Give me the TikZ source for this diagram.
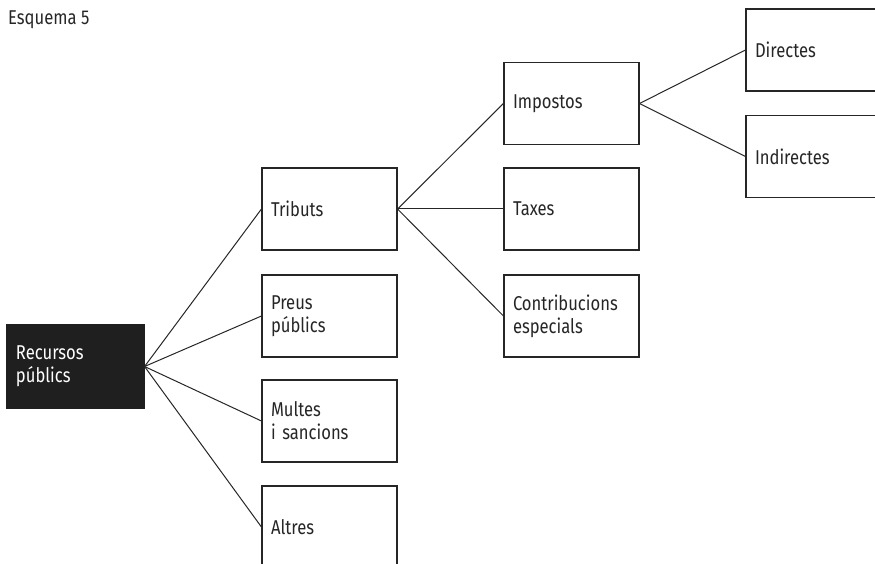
\documentclass[tikz,border=0pt]{standalone}
\usepackage{fontspec}
\setmainfont{Fira Sans}[FakeStretch=0.83]
\begin{document}
\begin{tikzpicture}[x=1pt,y=-1pt,
  every node/.style={font=\fontsize{20}{23}\selectfont},
  box/.style={draw=black!85,line width=1.1pt,fill=white,minimum width=135pt,minimum height=82pt,
    text width=117pt,inner xsep=9pt,inner ysep=0pt,align=left,text=black!85},
  rootbox/.style={box,fill=black!88,draw=black!88,text=white,minimum width=137pt,minimum height=83pt,
    text width=119pt},
  link/.style={draw=black!85,line width=1pt}]
  \useasboundingbox (0,0) rectangle (875,564);
  \clip (0,0) rectangle (875,564);
  \node[anchor=base west,inner sep=0pt,text=black!85] (title) at (8,25) {Esquema 5};
  % root
  \node[rootbox] (rec) at (75.5,366.5) {Recursos\\públics};
  % second level
  \node[box] (tri) at (329.5,209) {Tributs};
  \node[box] (pre) at (329.5,316) {Preus\\públics};
  \node[box] (mul) at (329.5,421) {Multes\\i sancions};
  \node[box] (alt) at (329.5,527) {Altres};
  % third level
  \node[box] (imp) at (571.5,103.5) {Impostos};
  \node[box] (tax) at (571.5,209) {Taxes};
  \node[box] (con) at (571.5,316) {Contribucions\\especials};
  % fourth level
  \node[box] (dir) at (813.5,50) {Directes};
  \node[box] (ind) at (813.5,156.5) {Indirectes};
  % connectors
  \foreach \t in {tri,pre,mul,alt} \draw[link] (rec.east) -- (\t.west);
  \foreach \t in {imp,tax,con} \draw[link] (tri.east) -- (\t.west);
  \foreach \t in {dir,ind} \draw[link] (imp.east) -- (\t.west);
\end{tikzpicture}
\end{document}
